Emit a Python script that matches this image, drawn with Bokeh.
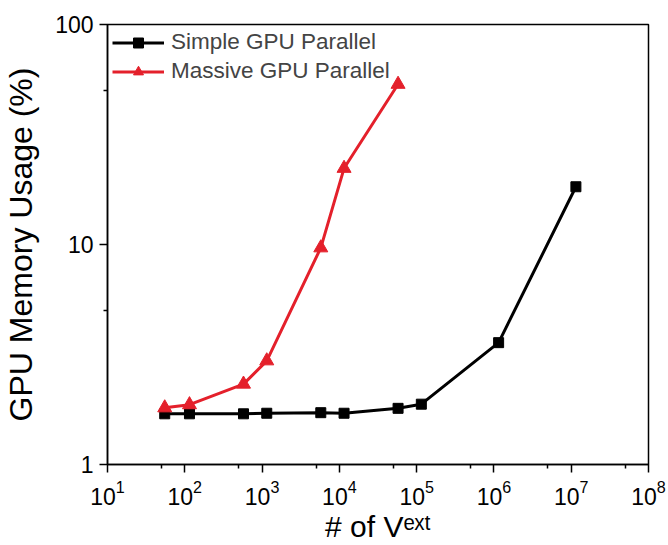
from bokeh.plotting import figure
from bokeh.models import FixedTicker, NumeralTickFormatter, Range1d
from bokeh.embed import file_html
from bokeh.resources import INLINE

# ---- data ----
v_ext = [55, 115, 575, 1150, 5750, 11500, 57500, 115000, 1150000, 11500000]
simple_usage = [1.70, 1.70, 1.70, 1.71, 1.72, 1.71, 1.80, 1.88, 3.58, 18.3]
massive_v_ext = [55, 115, 575, 1150, 5750, 11500, 57500]
massive_usage = [1.81, 1.87, 2.32, 2.96, 9.66, 22.2, 53.5]

x_major = [10, 100, 1000, 10000, 100000, 1000000, 10000000, 100000000]
x_minor = [50, 500, 5000, 50000, 500000, 5000000, 50000000]
y_major = [1, 10, 100]
y_minor = [5, 50]

FONT = "Liberation Sans"
RED = "#E4202B"

p = figure(width=668, height=545,
           x_axis_type="log", y_axis_type="log",
           x_range=Range1d(10, 1e8), y_range=Range1d(1, 100),
           output_backend="svg", toolbar_location=None,
           min_border_left=105, min_border_right=20,
           min_border_top=24, min_border_bottom=80)

p.xgrid.visible = False
p.ygrid.visible = False
p.outline_line_color = "black"
p.outline_line_width = 1.5

p.xaxis.ticker = FixedTicker(ticks=x_major, minor_ticks=x_minor)
p.yaxis.ticker = FixedTicker(ticks=y_major, minor_ticks=y_minor)
p.yaxis.formatter = NumeralTickFormatter(format="0")

for ax in (p.xaxis, p.yaxis):
    ax.axis_line_width = 1.5
    ax.axis_line_color = "black"
    ax.major_tick_line_width = 1.5
    ax.minor_tick_line_width = 1.5
    ax.major_tick_line_color = "black"
    ax.minor_tick_line_color = "black"
    ax.major_tick_in = 0
    ax.major_tick_out = 8
    ax.minor_tick_in = 0
    ax.minor_tick_out = 4
    ax.major_label_text_font = FONT
    ax.major_label_text_font_size = "23px"
    ax.major_label_text_color = "black"
    ax.axis_label_text_font = FONT
    ax.axis_label_text_font_style = "normal"
    ax.axis_label_text_color = "black"

p.yaxis.major_label_standoff = 6
p.yaxis.axis_label = "GPU Memory Usage (%)"
p.yaxis.axis_label_text_font_size = "32px"
p.yaxis.axis_label_standoff = 13

p.xaxis.major_label_standoff = 7
p.xaxis.axis_label = "# of V\u1d49\u02e3\u1d57"
p.xaxis.axis_label_text_font_size = "30px"
p.xaxis.axis_label_standoff = 2

# series
p.line(v_ext, simple_usage, line_color="black", line_width=3,
       legend_label="Simple GPU Parallel")
p.scatter(v_ext, simple_usage, marker="square", size=10,
          fill_color="black", line_color="black",
          legend_label="Simple GPU Parallel")

p.line(massive_v_ext, massive_usage, line_color=RED, line_width=3,
       legend_label="Massive GPU Parallel")
p.scatter(massive_v_ext, massive_usage, marker="triangle", size=14,
          fill_color=RED, line_color=RED,
          legend_label="Massive GPU Parallel")

lg = p.legend[0]
lg.location = "top_left"
lg.border_line_color = None
lg.background_fill_alpha = 0
lg.label_text_font = FONT
lg.label_text_font_size = "22.5px"
lg.glyph_width = 52
lg.glyph_height = 25
lg.label_height = 25
lg.spacing = 3
lg.padding = 13
lg.margin = 5
lg.label_standoff = 7

open("out.html", "w").write(file_html(p, INLINE))
